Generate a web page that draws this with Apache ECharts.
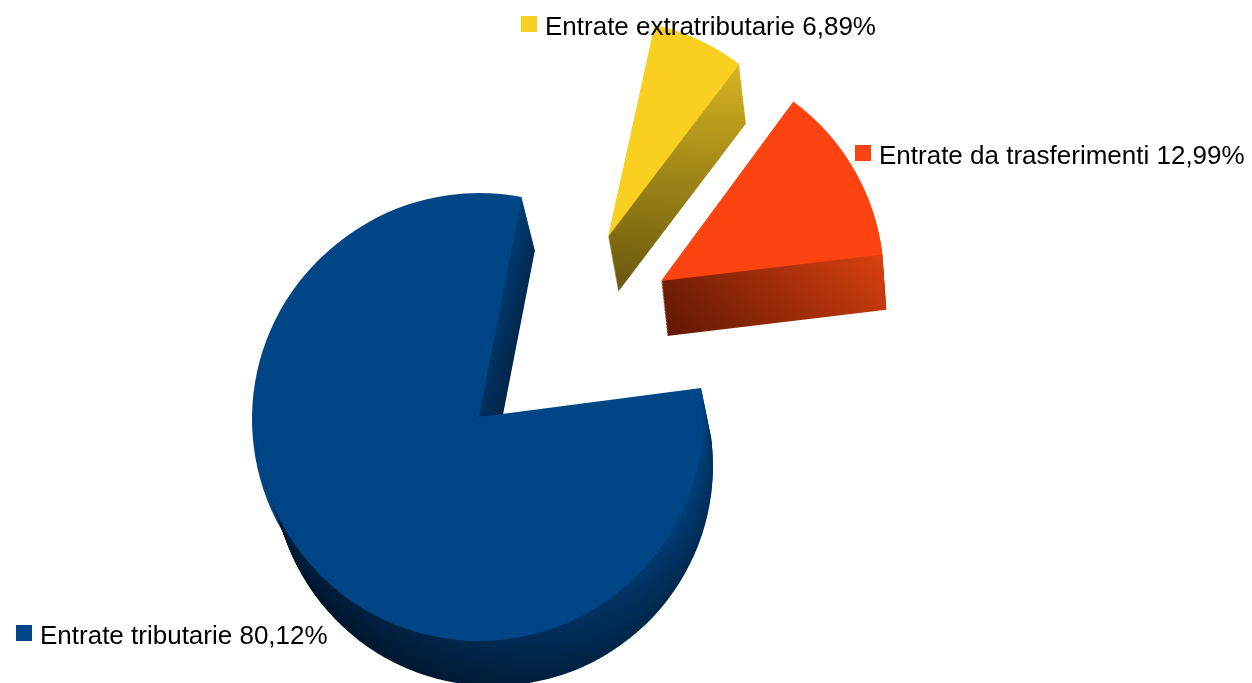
<!DOCTYPE html>
<html>
<head>
<meta charset="utf-8">
<style>
  html, body { margin: 0; padding: 0; background: #fff; }
  #main { width: 1252px; height: 683px; }
</style>
<script src="https://cdn.jsdelivr.net/npm/echarts@6/dist/echarts.min.js"></script>
</head>
<body>
<div id="main"></div>
<script>
'use strict';
var names = ['Entrate extratributarie', 'Entrate da trasferimenti', 'Entrate tributarie'];
var values = [6.89, 12.99, 80.12];
var valueLabels = ['6,89%', '12,99%', '80,12%'];
var colors = ['#f9cf20', '#fd4310', '#004586'];

// where each exploded slice sits, top face and bottom of the side wall
var slices = [
  { top: [608, 237], r: 217, bottom: [618, 292], rb: 212, tilt: 0, wall: ['#d6b422', '#6f5c0e'], from: [740, 70], to: [620, 290], fade: 0.95 },
  { top: [661, 281], r: 223, bottom: [667, 336], rb: 221, tilt: -0.8, wall: ['#e0430f', '#6a1a04'], from: [888, 240], to: [670, 340], fade: 0.92 },
  { top: [479, 417], r: 224, bottom: [493, 466], rb: 220, tilt: -1.4, wall: ['#00427f', '#001a36'], from: [715, 440], to: [300, 640], fade: 0.72 }
];
// the real top face is a little wider than tall, this fills out the left side
var blueWiden = { center: [475, 419], r: 223 };
var legendPos = [[521, 15], [855, 144], [16, 624]];
var firstAngle = 77.6;
var layers = 40;

function shade(hex, k) {
  var n = parseInt(hex.slice(1), 16);
  var r = Math.round((n >> 16) * k), g = Math.round(((n >> 8) & 255) * k), b = Math.round((n & 255) * k);
  return 'rgb(' + r + ',' + g + ',' + b + ')';
}

function piePart(name, value, start, center, radius, fill) {
  return {
    type: 'pie',
    silent: true,
    animation: false,
    clockwise: true,
    startAngle: start,
    center: center,
    radius: [0, radius],
    label: { show: false },
    labelLine: { show: false },
    emphasis: { disabled: true },
    data: [
      { name: name, value: value, itemStyle: { color: fill } },
      { name: '', value: 100 - value, itemStyle: { color: 'transparent' } }
    ]
  };
}

var series = [];
var angle = firstAngle;
values.forEach(function(v, i) {
  var s = slices[i];
  var start = angle + s.tilt * -1;
  if (i == 2) {
    series.push(piePart('', v, start, blueWiden.center, blueWiden.r, colors[i]));
  }
  // side wall: the slice repeated from the bottom up
  for (var l = layers; l > 0; l--) {
    var t = l / layers;
    var k = 1 - (1 - s.fade) * t;
    series.push(piePart('', v, start,
      [s.top[0] + (s.bottom[0] - s.top[0]) * t, s.top[1] + (s.bottom[1] - s.top[1]) * t],
      s.r + (s.rb - s.r) * t,
      {
        type: 'linear', global: true,
        x: s.from[0], y: s.from[1], x2: s.to[0], y2: s.to[1],
        colorStops: [{ offset: 0, color: shade(s.wall[0], k) }, { offset: 1, color: shade(s.wall[1], k) }]
      }));
  }
  series.push(piePart(names[i], v, start, s.top, s.r, colors[i]));
  angle -= v * 3.6;
});

var legends = names.map(function(n, i) {
  return {
    left: legendPos[i][0],
    top: legendPos[i][1],
    padding: 0,
    selectedMode: false,
    icon: 'rect',
    itemWidth: 16,
    itemHeight: 16,
    itemGap: 0,
    data: [{ name: n, itemStyle: { color: colors[i] } }],
    formatter: function(name) { return '{t|' + name + ' ' + valueLabels[i] + '}'; },
    textStyle: {
      rich: {
        t: { color: '#000', fontFamily: 'Liberation Sans', fontSize: 26, padding: [8, 0, 0, 3] }
      }
    }
  };
});

var myChart = echarts.init(document.getElementById('main'), null, { renderer: 'canvas' });
myChart.setOption({
  backgroundColor: '#fff',
  tooltip: { show: false },
  legend: legends,
  series: series
});
</script>
</body>
</html>
